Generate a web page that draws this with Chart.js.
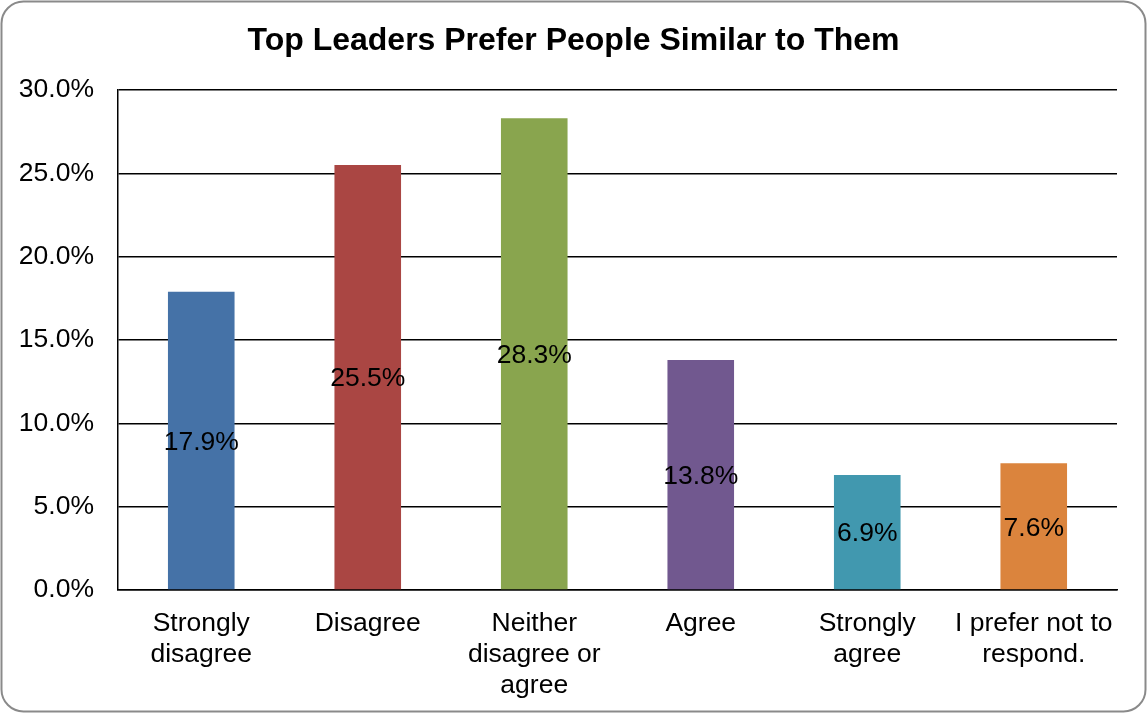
<!DOCTYPE html>
<html>
<head>
<meta charset="utf-8">
<script src="https://cdn.jsdelivr.net/npm/chart.js@4"></script>
<style>
html,body{margin:0;padding:0;background:#fff;}
canvas{display:block;}
</style>
</head>
<body>
<canvas id="c" width="1147" height="713"></canvas>
<script>
const categories = [['Strongly','disagree'], ['Disagree'], ['Neither','disagree or','agree'], ['Agree'], ['Strongly','agree'], ['I prefer not to','respond.']];
const values = [17.9, 25.5, 28.3, 13.8, 6.9, 7.6];
const barColors = ['#4572A7', '#AA4643', '#89A54E', '#71588F', '#4198AF', '#DB843D'];
const titleText = 'Top Leaders Prefer People Similar to Them';

const FONT = "'Liberation Sans', Arial, sans-serif";
const FS = 26.5;

const framePlugin = {
  id: 'frame',
  beforeDraw(chart) {
    const ctx = chart.ctx;
    ctx.save();
    ctx.fillStyle = '#fff';
    ctx.fillRect(0, 0, chart.width, chart.height);
    ctx.beginPath();
    ctx.roundRect(1.5, 1.5, chart.width - 3, chart.height - 3, 22);
    ctx.strokeStyle = '#8a8a8a';
    ctx.lineWidth = 2;
    ctx.stroke();
    ctx.restore();
  }
};

const labelPlugin = {
  id: 'barLabels',
  afterDatasetsDraw(chart) {
    const ctx = chart.ctx;
    const meta = chart.getDatasetMeta(0);
    ctx.save();
    ctx.font = FS + 'px ' + FONT;
    ctx.fillStyle = '#000';
    ctx.textAlign = 'center';
    ctx.textBaseline = 'middle';
    meta.data.forEach((bar, i) => {
      const y = (bar.y + bar.base) / 2;
      ctx.fillText(values[i].toFixed(1) + '%', bar.x, y + 2);
    });
    ctx.restore();
  }
};

new Chart(document.getElementById('c'), {
  type: 'bar',
  data: {
    labels: categories,
    datasets: [{
      data: values,
      backgroundColor: barColors,
      borderWidth: 0,
      categoryPercentage: 1.0,
      barPercentage: 0.4
    }]
  },
  options: {
    responsive: false,
    animation: false,
    devicePixelRatio: 1,
    layout: { padding: { left: 0, right: 0, top: 0, bottom: 0 } },
    plugins: {
      legend: { display: false },
      tooltip: { enabled: false },
      title: {
        display: true,
        text: titleText,
        color: '#000',
        font: { family: FONT, size: 32, weight: 'bold', lineHeight: 1.2 },
        padding: { top: 22, bottom: 29.6 }
      }
    },
    scales: {
      x: {
        grid: { display: false, drawTicks: false },
        border: { display: true, color: '#000', width: 1.5 },
        ticks: {
          color: '#000',
          font: { family: FONT, size: FS, lineHeight: 1.17 },
          padding: 18,
          maxRotation: 0,
          autoSkip: false
        },
        afterFit(scale) { scale.height = 713 - 590; }
      },
      y: {
        min: 0,
        max: 30,
        ticks: {
          stepSize: 5,
          color: '#000',
          font: { family: FONT, size: FS },
          padding: 24,
          callback: v => v.toFixed(1) + '%'
        },
        grid: { color: '#000', lineWidth: 1.5, drawTicks: false },
        border: { display: true, color: '#000', width: 1.5 },
        afterFit(scale) { scale.width = 118; }
      },
      spacer: {
        type: 'linear',
        position: 'right',
        display: true,
        grid: { display: false, drawTicks: false },
        border: { display: false },
        ticks: { display: false },
        afterFit(scale) { scale.width = 30; }
      }
    }
  },
  plugins: [framePlugin, labelPlugin]
});
</script>
</body>
</html>
